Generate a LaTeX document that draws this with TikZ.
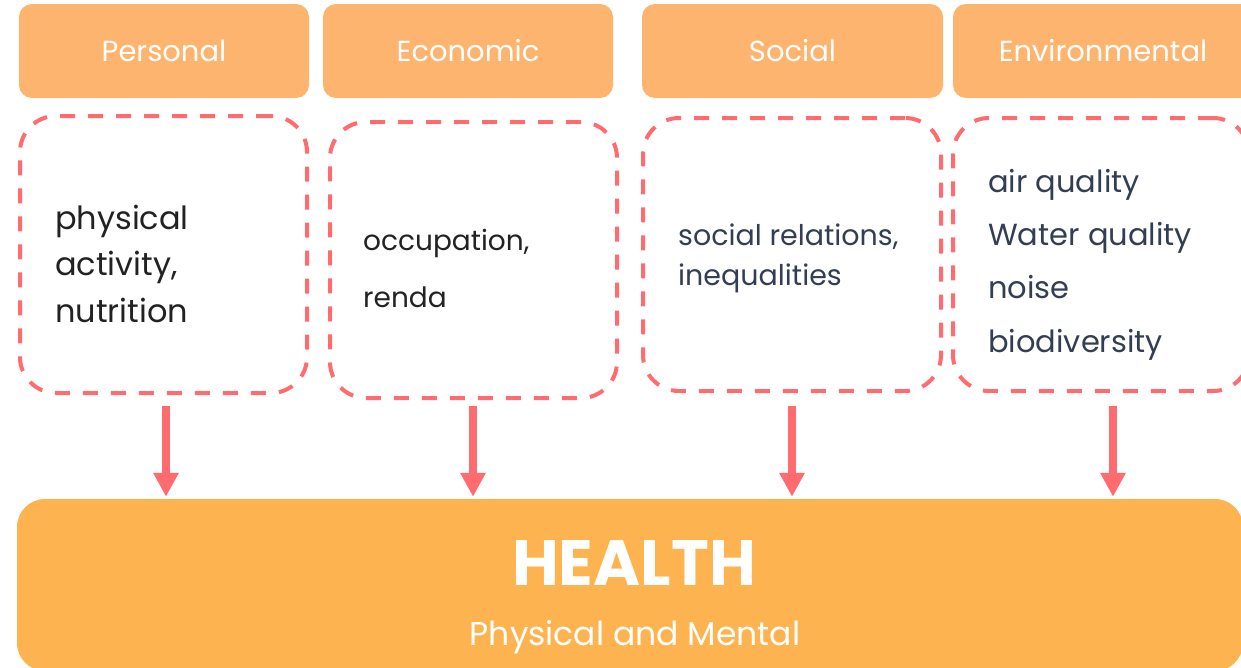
\documentclass[tikz,border=0pt]{standalone}
\usepackage{fontspec}
\setmainfont{Poppins}
\usepackage{tikz}
\usetikzlibrary{arrows.meta}

\definecolor{hdrorange}{RGB}{253,180,110}
\definecolor{healthorange}{RGB}{253,180,80}
\definecolor{dashred}{RGB}{255,107,110}
\definecolor{darktext}{RGB}{34,34,34}
\definecolor{slatetext}{RGB}{52,62,82}

\tikzset{
  hdr/.style={shape=rectangle,rounded corners=13pt,fill=hdrorange,text=white,
    minimum height=94pt,inner sep=0pt,font=\fontsize{29}{34}\selectfont},
  dbox/.style={shape=rectangle,rounded corners=36pt,draw=dashred,line width=4pt,
    dash pattern=on 15pt off 13pt,minimum height=275pt,inner sep=0pt},
  txt/.style={align=left,inner sep=0pt,anchor=base west},
  pushdown/.style={draw=dashred,line width=8pt,-{Triangle[width=24pt,length=24pt]}}
}

\begin{document}
\begin{tikzpicture}[x=1pt,y=-1pt]
    \useasboundingbox (0,0) rectangle (1241,667);

    \node[hdr,minimum width=290pt] (P) at (164,51) {Personal};
    \node[hdr,minimum width=290pt] (Ec) at (468,51) {Economic};
    \node[hdr,minimum width=301pt] (S) at (792.5,51) {Social};
    \node[hdr,minimum width=300pt] (En) at (1103,51) {Environmental};

    \node[dbox,minimum width=287pt,minimum height=277pt] (Pbox) at (163.5,254.5) {};
    \node[dbox,minimum width=287pt,minimum height=276pt] (Ecbox) at (473.5,260) {};
    \node[dbox,minimum width=298pt,minimum height=273pt] (Sbox) at (792,254.5) {};
    \node[dbox,minimum width=296pt,minimum height=273pt] (Enbox) at (1101,254.5) {};

    % anchor sits on the last line
    \node[txt,text=darktext,font=\fontsize{32}{46.5}\selectfont] (Ptext) at (55,322) {physical\\activity,\\nutrition};
    \node[txt,text=darktext,font=\fontsize{28}{57}\selectfont] (Ectext) at (363,307) {occupation,\\renda};
    \node[txt,text=slatetext,font=\fontsize{28.5}{40}\selectfont] (Stext) at (678,285) {social relations,\\inequalities};
    \node[txt,text=slatetext,font=\fontsize{30.5}{53.3}\selectfont] (Entext) at (988,352) {air quality\\Water quality\\noise\\biodiversity};

    \node[shape=rectangle,rounded corners=28pt,fill=healthorange,minimum width=1226pt,
      minimum height=172pt,inner sep=0pt] (H) at (630,585) {};
    \node[text=white,anchor=base,inner sep=0pt,font=\fontsize{64}{70}\selectfont\bfseries] (Htitle) at (634,585) {HEALTH};
    \node[text=white,anchor=base,inner sep=0pt,font=\fontsize{33}{38}\selectfont] (Hsub) at (635,645) {Physical and Mental};

    \path ([xshift=2.5pt,yshift=-11pt]Pbox.south) edge[pushdown] ([xshift=2.5pt,yshift=2pt]Pbox.south |- H.north);
    \path ([xshift=-0.5pt,yshift=-6pt]Ecbox.south) edge[pushdown] ([xshift=-0.5pt,yshift=2pt]Ecbox.south |- H.north);
    \path ([yshift=-13pt]Sbox.south) edge[pushdown] ([yshift=2pt]Sbox.south |- H.north);
    \path ([xshift=12pt,yshift=-13pt]Enbox.south) edge[pushdown] ([xshift=12pt,yshift=2pt]Enbox.south |- H.north);

\end{tikzpicture}
\end{document}
